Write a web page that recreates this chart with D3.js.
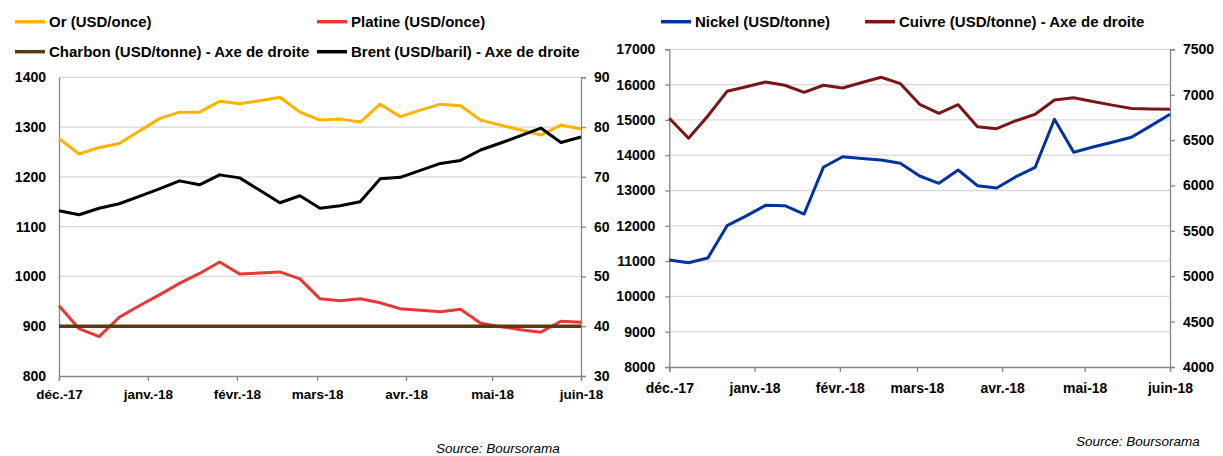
<!DOCTYPE html>
<html><head><meta charset="utf-8">
<script src="https://cdn.jsdelivr.net/npm/d3@7"></script>
<style>body{margin:0;background:#fff}svg{display:block;font-family:"Liberation Sans",Arial,sans-serif}</style>
</head><body><svg id="c" width="1223" height="456"></svg>
<script>
// ---- data ----
const dates = ["2017-12-01","2017-12-08","2017-12-15","2017-12-22","2017-12-29","2018-01-05","2018-01-12","2018-01-19","2018-01-26","2018-02-02","2018-02-09","2018-02-16","2018-02-23","2018-03-02","2018-03-09","2018-03-16","2018-03-23","2018-03-30","2018-04-06","2018-04-13","2018-04-20","2018-04-27","2018-05-04","2018-05-11","2018-05-18","2018-05-25","2018-06-01"];
const orValues      = [1277,1246,1259,1267,1292,1317,1330,1330,1352,1347,1353,1360,1330,1314,1316,1310,1346,1321,1334,1346,1343,1314,1304,1294,1284,1304,1296];
const platineValues = [941,895,879,918,941,963,986,1006,1029,1005,1007,1009,995,955,951,955,947,935,932,929,934,906,899,893,888,910,908];
const charbonValues = [40,40,40,40,40,40,40,40,40,40,40,40,40,40,40,40,40,40,40,40,40,40,40,40,40,40,40];
const brentValues   = [63.2,62.4,63.7,64.6,66.1,67.6,69.2,68.4,70.4,69.8,67.3,64.8,66.2,63.7,64.2,65.0,69.6,69.9,71.3,72.7,73.3,75.4,76.8,78.3,79.8,76.9,78.0];
const nickelValues  = [11031,10954,11087,12003,12280,12580,12569,12334,13657,13957,13909,13864,13770,13411,13204,13580,13136,13071,13391,13657,15017,14082,14232,14368,14507,14830,15159];
const cuivreValues  = [6740,6520,6765,7037,7087,7140,7104,7026,7104,7074,7134,7192,7121,6894,6795,6890,6648,6626,6713,6784,6942,6967,6924,6885,6847,6843,6839];
const monthTicks = ["2017-12-01","2018-01-01","2018-02-01","2018-03-01","2018-04-01","2018-05-01","2018-06-01"];
const monthLabels = ["déc.-17","janv.-18","févr.-18","mars-18","avr.-18","mai-18","juin-18"];
const leftY1Ticks = [800,900,1000,1100,1200,1300,1400];
const leftY2Ticks = [30,40,50,60,70,80,90];
const rightY1Ticks = [8000,9000,10000,11000,12000,13000,14000,15000,16000,17000];
const rightY2Ticks = [4000,4500,5000,5500,6000,6500,7000,7500];
const legendLeft = [["Or (USD/once)","#FFB300"],["Platine (USD/once)","#E53A33"],["Charbon (USD/tonne) - Axe de droite","#5C3A10"],["Brent (USD/baril) - Axe de droite","#000000"]];
const legendRight = [["Nickel (USD/tonne)","#0033A0"],["Cuivre (USD/tonne) - Axe de droite","#7A1616"]];
const sourceText = "Source: Boursorama";

const parse = d3.timeParse("%Y-%m-%d");
const D = dates.map(parse);
const svg = d3.select("#c");
const axisCol = "#868686", gridCol = "#D9D9D9";

function panel(o){
  const g = svg.append("g");
  const x = d3.scaleTime().domain([parse(monthTicks[0]), parse(monthTicks[monthTicks.length-1])]).range([o.x0,o.x1]);
  const y1 = d3.scaleLinear().domain(o.d1).range([o.yb,o.yt]);
  const y2 = d3.scaleLinear().domain(o.d2).range([o.yb,o.yt]);
  g.append("g").selectAll("line").data(o.t1.filter(v=>v!==o.d1[0])).join("line")
    .attr("x1",o.x0).attr("x2",o.x1).attr("y1",d=>y1(d)).attr("y2",d=>y1(d))
    .attr("stroke",gridCol).attr("stroke-width",1.3);
  const la = g.append("g").attr("transform",`translate(${o.x0},0)`)
    .call(d3.axisLeft(y1).tickValues(o.t1).tickSize(o.leftTick).tickPadding(o.pad).tickFormat(d3.format("d")));
  const ra = g.append("g").attr("transform",`translate(${o.x1},0)`)
    .call(d3.axisRight(y2).tickValues(o.t2).tickSize(5).tickPadding(8).tickFormat(d3.format("d")));
  const ba = g.append("g").attr("transform",`translate(0,${o.yb})`)
    .call(d3.axisBottom(x).tickValues(monthTicks.map(parse)).tickSize(5).tickPadding(o.xpad)
      .tickFormat((d,i)=>monthLabels[i]));
  [la,ra,ba].forEach(a=>{
    a.select(".domain").attr("stroke",axisCol).attr("stroke-width",1.3);
    a.selectAll(".tick line").attr("stroke",axisCol).attr("stroke-width",1.3);
    a.selectAll("text").attr("fill","#000").attr("font-weight","bold").attr("font-size",14)
      .attr("font-family","Liberation Sans, Arial, sans-serif");
  });
  ba.selectAll("text").attr("font-size",o.xfs);
  o.series.forEach(s=>{
    const ys = s.axis===1?y1:y2;
    const line = d3.line().x((d,i)=>x(D[i])).y(d=>ys(d));
    g.append("path").datum(s.values).attr("d",line).attr("fill","none")
      .attr("stroke",s.color).attr("stroke-width",s.w||3).attr("stroke-linejoin","round");
  });
  return g;
}

panel({x0:59,x1:581,yt:77.3,yb:376,d1:[800,1400],d2:[30,90],t1:leftY1Ticks,t2:leftY2Ticks,leftTick:0,pad:13,xpad:8,xfs:13.5,
  series:[{values:orValues,color:legendLeft[0][1],axis:1},
          {values:platineValues,color:legendLeft[1][1],axis:1},
          {values:charbonValues,color:legendLeft[2][1],axis:2,w:3.5},
          {values:brentValues,color:legendLeft[3][1],axis:2}]});
panel({x0:669.3,x1:1170,yt:49.3,yb:367,d1:[8000,17000],d2:[4000,7500],t1:rightY1Ticks,t2:rightY2Ticks,leftTick:4,pad:10,xpad:11,xfs:14,
  series:[{values:nickelValues,color:legendRight[0][1],axis:1},
          {values:cuivreValues,color:legendRight[1][1],axis:2}]});

function legend(items,pos){
  items.forEach((it,i)=>{
    const p = pos[i];
    svg.append("line").attr("x1",p[0]).attr("x2",p[0]+30).attr("y1",p[1]).attr("y2",p[1])
      .attr("stroke",it[1]).attr("stroke-width",3.5);
    svg.append("text").attr("x",p[0]+34).attr("y",p[1]).attr("dy","0.36em")
      .attr("font-size",15).attr("font-weight","bold").text(it[0]);
  });
}
legend(legendLeft,[[15,21.7],[317,21.7],[15,51.7],[317,51.7]]);
legend(legendRight,[[661,21.7],[865,21.7]]);

svg.append("text").attr("x",436).attr("y",453).attr("font-size",13.5).attr("font-style","italic").text(sourceText);
svg.append("text").attr("x",1076).attr("y",446).attr("font-size",13.5).attr("font-style","italic").text(sourceText);
</script></body></html>
